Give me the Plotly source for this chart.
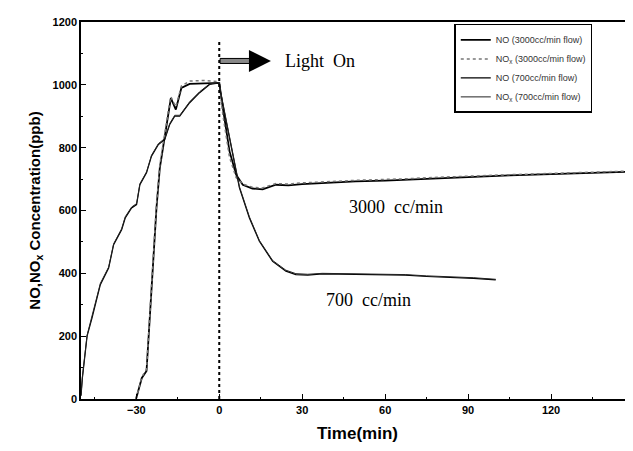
import plotly.graph_objects as go

# ---- data ----
t_fast = [-30.1, -28, -26.3, -24.5, -22.7, -21.5, -19.7, -18.5, -17.5, -15.7, -13.7,
          -10.7, -6, -3, 0, 1.3, 3.7, 6.1, 8.5, 12, 15.7, 20.5, 25, 30, 37.3, 45,
          49.3, 60, 67.3, 80, 90, 105, 120, 135, 150]
no_3000 = [0, 67, 89, 344, 608, 735, 842, 905, 958, 921, 990,
           1003, 1004, 1005, 1006, 927, 789, 714, 682, 670, 667, 682, 680, 684, 688, 690,
           693, 695, 698, 703, 708, 712, 716, 720, 724]
nox_3000 = [0, 70, 95, 355, 620, 745, 850, 912, 962, 930, 996,
            1012, 1014, 1013, 1010, 905, 770, 705, 684, 674, 672, 686, 684, 688, 692, 694,
            696, 698, 701, 706, 710, 714, 718, 722, 726]

t_slow = [-50, -49.5, -47.8, -46, -43, -40, -38.2, -35.3, -34, -31.7, -29.9, -28.7,
          -26.3, -24.5, -22, -19.7, -17.9, -16.1, -14.3, -10.7, -7.1, -3.5, 0, 0.5,
          2.5, 4.9, 7.3, 10.9, 14.5, 19.3, 24.1, 27.7, 32, 37.3, 49.3, 60, 67.3, 75,
          85, 92, 100]
no_700 = [10, 67, 200, 258, 364, 417, 491, 539, 576, 608, 619, 682,
          720, 773, 810, 826, 874, 900, 900, 943, 975, 1001, 1006, 975,
          884, 778, 672, 576, 502, 438, 407, 396, 394, 398, 396, 395, 394, 390,
          387, 384, 379]
nox_700 = [12, 70, 203, 262, 368, 420, 494, 542, 580, 611, 622, 685,
           723, 776, 813, 829, 877, 903, 903, 946, 978, 1003, 1007, 978,
           888, 782, 676, 580, 505, 441, 410, 399, 397, 400, 398, 397, 396, 392,
           389, 386, 381]

legend_names = ["NO (3000cc/min flow)", "NO<sub>x</sub> (3000cc/min flow)",
                "NO (700cc/min flow)", "NO<sub>x</sub> (700cc/min flow)"]
x_ticks = [-30, 0, 30, 60, 90, 120, 150]
y_ticks = [0, 200, 400, 600, 800, 1000, 1200]

fig = go.Figure()
fig.add_trace(go.Scatter(x=t_fast, y=no_3000, mode="lines", name=legend_names[0],
                         line=dict(color="black", width=1.8)))
fig.add_trace(go.Scatter(x=t_fast, y=nox_3000, mode="lines", name=legend_names[1],
                         line=dict(color="#777", width=1.5, dash="dot")))
fig.add_trace(go.Scatter(x=t_slow, y=no_700, mode="lines", name=legend_names[2],
                         line=dict(color="black", width=1.2)))
fig.add_trace(go.Scatter(x=t_slow, y=nox_700, mode="lines", name=legend_names[3],
                         line=dict(color="#222", width=1)))

# light-on dashed line
fig.add_shape(type="line", x0=0, x1=0, y0=0, y1=1143, xref="x", yref="y",
              line=dict(color="black", width=2, dash="3px,3px"))
# arrow shaft
fig.add_shape(type="rect", x0=0.3, x1=11, y0=1068, y1=1084, xref="x", yref="y",
              fillcolor="#888", line=dict(color="black", width=1))
fig.add_annotation(x=18.7, y=1076, ax=11.5, ay=1076, xref="x", yref="y",
                   axref="x", ayref="y", text="", showarrow=True, arrowhead=2,
                   arrowwidth=4, arrowsize=1.1, arrowcolor="black")

serif = dict(family="Liberation Serif", size=18, color="black")
fig.add_annotation(x=23, y=1076, xref="x", yref="y", text="Light  On",
                   showarrow=False, xanchor="left", font=serif)
fig.add_annotation(x=64, y=611, xref="x", yref="y", text="3000  cc/min",
                   showarrow=False, font=serif)
fig.add_annotation(x=54, y=315, xref="x", yref="y", text="700  cc/min",
                   showarrow=False, font=serif)

tickfont = dict(family="Liberation Sans", size=11, color="black", weight="bold")
fig.update_xaxes(range=[-50, 150], tickvals=x_ticks, ticks="inside", ticklen=5,
                 tickwidth=1.2, tickcolor="black", showline=True, linecolor="black",
                 linewidth=1.5, mirror=True, showgrid=False, zeroline=False,
                 tickfont=tickfont,
                 minor=dict(dtick=15, tick0=0, ticks="inside", ticklen=2, tickcolor="black"),
                 title=dict(text="Time(min)", standoff=12,
                            font=dict(family="Liberation Sans", size=17, color="black",
                                      weight="bold")))
fig.update_yaxes(range=[0, 1200], tickvals=y_ticks, ticks="inside", ticklen=5,
                 tickwidth=1.2, tickcolor="black", showline=True, linecolor="black",
                 linewidth=1.5, mirror=True, showgrid=False, zeroline=False,
                 tickfont=tickfont,
                 minor=dict(dtick=100, tick0=0, ticks="inside", ticklen=2, tickcolor="black"),
                 title=dict(text="NO,NO<sub>x</sub> Concentration(ppb)", standoff=8,
                            font=dict(family="Liberation Sans", size=15, color="black",
                                      weight="bold")))

fig.update_layout(
    width=633, height=451,
    margin=dict(l=73, r=5, t=14, b=60),
    paper_bgcolor="white", plot_bgcolor="white",
    showlegend=True,
    legend=dict(x=0.675, y=0.995, xanchor="left", yanchor="top",
                bordercolor="black", borderwidth=1.5, bgcolor="white",
                font=dict(family="Liberation Sans", size=9, color="#333"),
                tracegroupgap=0),
)

fig.write_html("out.html")
